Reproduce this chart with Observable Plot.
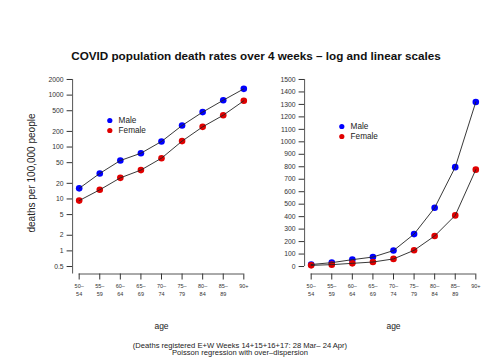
<!DOCTYPE html>
<html><head><meta charset="utf-8">
<script src="https://cdn.jsdelivr.net/npm/d3@7"></script>
<script src="https://cdn.jsdelivr.net/npm/@observablehq/plot@0.6"></script>
<style>
body{margin:0;background:#fff;}
#wrap{position:relative;width:500px;height:364px;font-family:"Liberation Sans",Arial,Helvetica,sans-serif;color:#000;overflow:hidden;background:#fff}
.title{position:absolute;left:6px;top:48.5px;width:500px;text-align:center;font-weight:bold;font-size:11.7px;line-height:14px;color:#111}
.panel{position:absolute;top:60px}
.cap{position:absolute;left:-10px;top:341.5px;width:500px;text-align:center;font-size:7.6px;line-height:7.7px;color:#222}
</style></head><body>
<div id="wrap">
 <div class="title" id="title"></div>
 <div id="left" class="panel" style="left:0"></div>
 <div id="right" class="panel" style="left:250px"></div>
 <div class="cap" id="cap"></div>
</div>
<script>
const titleText = "COVID population death rates over 4 weeks \u2013 log and linear scales";
const captionLines = ["(Deaths registered E+W Weeks 14+15+16+17: 28 Mar\u2013 24 Apr)", "Poisson regression with over\u2013dispersion"];
const ageGroups = ["50\u201354","55\u201359","60\u201364","65\u201369","70\u201374","75\u201379","80\u201384","85\u201389","90+"];
const maleRates = [16, 31, 55, 76, 128, 260, 471, 797, 1320];
const femaleRates = [9.3, 15, 25.5, 36, 61, 130, 245, 410, 777];
const seriesNames = ["Male", "Female"];
const seriesColors = ["#0000ff", "#e00000"];
const logTicks = [0.5, 1, 2, 5, 10, 20, 50, 100, 200, 500, 1000, 2000];
const linTicks = [0, 100, 200, 300, 400, 500, 600, 700, 800, 900, 1000, 1100, 1200, 1300, 1400, 1500];
const yLabel = "deaths per 100,000 people";
const xLabel = "age";

document.getElementById("title").textContent = titleText;
document.getElementById("cap").innerHTML = captionLines.join("<br>");

const rows = ageGroups.flatMap((age, i) => [
  {i, age, sex: seriesNames[0], rate: maleRates[i]},
  {i, age, sex: seriesNames[1], rate: femaleRates[i]}
]);
const n = ageGroups.length;
const xIdx = d3.range(n);
const xDomain = [-0.04 * (n - 1), (n - 1) * 1.04];

function tickLabel(i) {
  const a = ageGroups[i];
  const k = a.indexOf("\u2013");
  return k >= 0 ? a.slice(0, k + 1) + "\n" + a.slice(k + 1) : a;
}

function panel({yType, ticks, yDomain, yAxisBottom, marginLeft, marginRight, legendDy, showYLabel}) {
  const axisLines = [{x: xDomain[0], y1: ticks[ticks.length - 1], y2: yAxisBottom}];
  const baseLine = [{y: yDomain[0], x1: xIdx[0], x2: xIdx[n - 1]}];
  const marks = [
    Plot.ruleX(axisLines, {x: "x", y1: "y1", y2: "y2", stroke: "#555", strokeWidth: 1}),
    Plot.ruleY(baseLine, {y: "y", x1: "x1", x2: "x2", stroke: "#555", strokeWidth: 1}),
    Plot.axisY({anchor: "left", ticks, tickSize: 5.5, tickPadding: 3.5, fontSize: 6.8, color: "#333", label: null, text: d => String(d)}),
    Plot.axisX({anchor: "bottom", ticks: xIdx, tickSize: 6, tickPadding: 3, fontSize: 5.5, lineHeight: 1.36, color: "#333", label: null, text: tickLabel}),
    Plot.dot(rows, {x: "i", y: "rate", fill: "sex", r: 3.3}),
    Plot.line(rows, {x: "i", y: "rate", z: "sex", stroke: "#222", strokeWidth: 0.9}),
    Plot.text([xLabel], {frameAnchor: "bottom", dy: 52, fontSize: 8.5, fill: "#222", lineAnchor: "middle", textAnchor: "middle"})
  ];
  seriesNames.forEach((s, k) => {
    marks.push(Plot.dot([s], {frameAnchor: "top-left", dx: 37.2, dy: legendDy + 10 * k, r: 2.6, fill: d => d}));
    marks.push(Plot.text([s], {frameAnchor: "top-left", dx: 46, dy: legendDy + 10 * k, text: d => d, textAnchor: "start", lineAnchor: "middle", fontSize: 8.2, fill: "#222"}));
  });
  if (showYLabel) marks.push(Plot.text([yLabel], {frameAnchor: "left", dx: 31 - marginLeft, rotate: -90, textAnchor: "middle", lineAnchor: "middle", fontSize: 10, fill: "#222"}));
  return Plot.plot({
    width: 250, height: 280,
    marginTop: 11.5, marginBottom: 66.5, marginLeft, marginRight,
    x: {type: "linear", domain: xDomain},
    y: {type: yType, domain: yDomain, ticks},
    color: {domain: seriesNames, range: seriesColors},
    style: {fontFamily: '"Liberation Sans", Arial, Helvetica, sans-serif', background: "transparent", overflow: "visible"},
    marks
  });
}

const logMin = Math.log10(logTicks[0]), logMax = Math.log10(logTicks[logTicks.length - 1]);
const pad = 0.04 * (logMax - logMin);
document.getElementById("left").append(panel({
  yType: "log", ticks: logTicks,
  yDomain: [Math.pow(10, logMin - pad), Math.pow(10, logMax + pad)],
  yAxisBottom: Math.pow(10, logMin - pad),
  marginLeft: 72.1, marginRight: 0.1, legendDy: 48.5, showYLabel: true
}));
const linMin = linTicks[0], linMax = linTicks[linTicks.length - 1];
const lpad = 0.04 * (linMax - linMin);
document.getElementById("right").append(panel({
  yType: "linear", ticks: linTicks,
  yDomain: [linMin - lpad, linMax + lpad],
  yAxisBottom: linMin,
  marginLeft: 54.1, marginRight: 18.1, legendDy: 54.5, showYLabel: false
}));
</script>
</body></html>
